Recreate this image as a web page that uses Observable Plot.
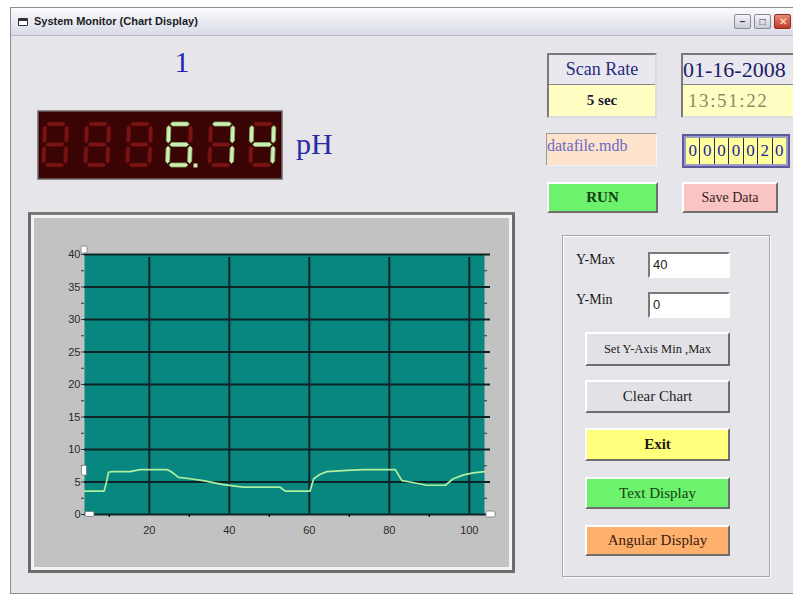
<!DOCTYPE html>
<html>
<head>
<meta charset="utf-8">
<script src="https://cdn.jsdelivr.net/npm/d3@7"></script>
<script src="https://cdn.jsdelivr.net/npm/@observablehq/plot@0.6"></script>
<style>
  html, body { margin: 0; padding: 0; background: #ffffff; }
  body { width: 793px; height: 599px; overflow: hidden; position: relative; font-family: "Liberation Serif", "DejaVu Serif", serif; }
  .abs { position: absolute; box-sizing: border-box; font-family: "Liberation Serif", "DejaVu Serif", serif; }
  .win { left: 10px; top: 7px; width: 800px; height: 587px; background: #e5e5ea; border: 1px solid #8c8c94; border-right: none; }
  .titlebar { left: 0; top: 0; width: 100%; height: 28px; background: linear-gradient(to bottom, #fbfbfd, #e6e7ee 60%, #d9dbe5); border-bottom: 1px solid #b8b8c4; }
  .abs.title { left: 23px; top: 7px; font: bold 11px "Liberation Sans", Arial, sans-serif; color: #1c1c24; white-space: nowrap; }
  .icon { left: 7px; top: 10px; width: 10px; height: 8px; border: 1.5px solid #333; border-top-width: 3px; border-radius: 1px; background: #fff; }
  .wbtn { top: 6px; width: 17px; height: 15px; border: 1px solid #8a8a98; border-radius: 2px; background: linear-gradient(#f4f4f8, #c9cbd8); }
  .raised { border-style: solid; border-width: 2px; border-color: #ffffff #6e6e6e #6e6e6e #ffffff; display: flex; align-items: center; justify-content: center; white-space: nowrap; font-family: "Liberation Serif", "DejaVu Serif", serif; }
  .sunken { border-style: solid; border-width: 2px; border-color: #7a7a7a #ffffff #ffffff #7a7a7a; }
  .cell { flex: 1; border-right: 1px solid #2a2a60; display: flex; align-items: center; justify-content: center; background: #ffff9c; color: #2424a0; font-size: 17px; font-family: "Liberation Serif", serif; }
</style>
</head>
<body>
<div id="root"></div>
<script>
// ---------------- data ----------------
const channelLabel = "1";
const reading = "6.74";
const unitLabel = "pH";
const scanRateLabel = "Scan Rate";
const scanRateValue = "5 sec";
const dateText = "01-16-2008";
const timeText = "13:51:22";
const fileName = "datafile.mdb";
const counterText = "0000020";
const yMaxValue = 40;
const yMinValue = 0;

// trace samples (time index, pH)
const sampleX = [3.8, 8.7, 9.3, 9.8, 10.6, 15.2, 17.7, 24.4, 25.2, 26.1, 27.3, 30.2, 33.5, 38.5, 43.5, 52.7, 54.0, 60.2, 61.1, 62.7, 64.4, 69.5, 73.6, 81.5, 82.3, 83.2, 85.2, 89.4, 94.0, 96.0, 98.6, 101.0, 103.8];
const sampleY = [3.6, 3.6, 5.0, 6.5, 6.6, 6.6, 6.9, 6.9, 6.7, 6.3, 5.7, 5.5, 5.2, 4.6, 4.2, 4.2, 3.6, 3.6, 5.5, 6.2, 6.6, 6.8, 6.9, 6.9, 6.1, 5.2, 5.0, 4.5, 4.5, 5.5, 6.1, 6.4, 6.6];

const xDomain = [3.8, 103.8];
const xTicks = [20, 40, 60, 80, 100];
const xMinorTicks = [10, 30, 50, 70, 90];
const yTicks = [0, 5, 10, 15, 20, 25, 30, 35, 40];
const yMinorTicks = [2.5, 7.5, 12.5, 17.5, 22.5, 27.5, 32.5, 37.5];

// ---------------- helpers ----------------
const root = document.getElementById("root");
function box(cls, style, html) {
  const d = document.createElement("div");
  d.className = "abs " + (cls || "");
  Object.assign(d.style, style);
  if (html != null) d.innerHTML = html;
  root.appendChild(d);
  return d;
}
const px = v => v + "px";
function place(l, t, w, h) { return { left: px(l), top: px(t), width: px(w), height: px(h) }; }

// ---------------- window chrome ----------------
const win = box("win", {});
const tb = document.createElement("div"); tb.className = "abs titlebar"; win.appendChild(tb);
const ic = document.createElement("div"); ic.className = "abs icon"; tb.appendChild(ic);
const tt = document.createElement("div"); tt.className = "abs title"; tt.textContent = "System Monitor (Chart Display)"; tb.appendChild(tt);
[[723, "–"], [743, "□"], [763, "✕"]].forEach(([l, s], i) => {
  const b = document.createElement("div"); b.className = "abs wbtn";
  b.style.left = px(l);
  if (i === 2) { b.style.background = "linear-gradient(#e88a7a,#c0382a)"; b.style.borderColor = "#8a3020"; }
  b.style.font = "bold 10px 'Liberation Sans', sans-serif";
  b.style.color = i === 2 ? "#ffd0a0" : "#333";
  b.style.display = "flex"; b.style.alignItems = "center"; b.style.justifyContent = "center";
  b.textContent = s;
  tb.appendChild(b);
});

// channel number
box("", Object.assign(place(160, 42, 44, 40), { fontSize: "30px", color: "#2424b8", textAlign: "center", lineHeight: "40px" }), channelLabel);

// LED display
(function led() {
  const L = 37, T = 110, W = 246, H = 70;
  const slots = [43, 85, 127, 167, 209, 250];
  const segMap = { "0": "abcdef", "1": "bc", "2": "abdeg", "3": "abcdg", "4": "bcfg", "5": "acdfg", "6": "acdefg", "7": "abc", "8": "abcdefg", "9": "abcdfg" };
  const digs = reading.replace(".", "").split("");
  const dpAfter = reading.indexOf(".") - 1;
  const lit = Array(slots.length - digs.length).fill(null).concat(digs);
  const dpIndex = slots.length - digs.length + dpAfter;
  const w = 26, h = 45, t = 4, gap = 1.5, m = t / 2;
  function hseg(x0, x1, y) {
    x0 += gap; x1 -= gap;
    return `${x0},${y} ${x0 + m},${y - m} ${x1 - m},${y - m} ${x1},${y} ${x1 - m},${y + m} ${x0 + m},${y + m}`;
  }
  function vseg(x, y0, y1) {
    y0 += gap; y1 -= gap;
    return `${x},${y0} ${x + m},${y0 + m} ${x + m},${y1 - m} ${x},${y1} ${x - m},${y1 - m} ${x - m},${y0 + m}`;
  }
  const xL = m, xR = w - m, yT = m, yM = h / 2, yB = h - m;
  const segs = {
    a: hseg(xL, xR, yT), b: vseg(xR, yT, yM), c: vseg(xR, yM, yB), d: hseg(xL, xR, yB),
    e: vseg(xL, yM, yB), f: vseg(xL, yT, yM), g: hseg(xL, xR, yM)
  };
  let svg = `<svg width="${W}" height="${H}" xmlns="http://www.w3.org/2000/svg">`;
  svg += `<rect x="0" y="0" width="${W}" height="${H}" fill="#3a0404" stroke="#8a8a8a" stroke-width="3"/>`;
  slots.forEach((sx, i) => {
    const on = lit[i] ? segMap[lit[i]] : "";
    svg += `<g transform="translate(${sx - L},${122 - T}) skewX(-2)">`;
    for (const k of "abcdefg") {
      const isOn = on.includes(k);
      svg += `<polygon points="${segs[k]}" fill="${isOn ? "#cdeeb4" : "#7a1414"}" stroke="${isOn ? "#7fae66" : "#5a0a0a"}" stroke-width="0.8"/>`;
    }
    if (i === dpIndex) svg += `<rect x="${w + 2}" y="${h - 3.5}" width="4" height="4" fill="#cdeeb4"/>`;
    svg += `</g>`;
  });
  svg += `</svg>`;
  box("", place(L, T, W, H), svg);
})();

// unit label
box("", Object.assign(place(296, 124, 60, 40), { fontSize: "30px", color: "#2a2aa6", lineHeight: "40px" }), unitLabel);

// Scan rate box
box("", Object.assign(place(547, 53, 110, 65), { border: "2px solid", borderColor: "#7a7a7a #dcdcdc #dcdcdc #7a7a7a" }));
box("", Object.assign(place(549, 55, 106, 30), { background: "#e8e8ee", color: "#2a2a82", fontSize: "18px", display: "flex", alignItems: "center", justifyContent: "center", borderBottom: "1px solid #888" }), scanRateLabel);
box("", Object.assign(place(549, 85, 106, 31), { background: "#ffffc4", color: "#1c1c3c", fontSize: "15px", fontWeight: "bold", display: "flex", alignItems: "center", justifyContent: "center" }), scanRateValue);

// Date / time box
box("", Object.assign(place(681, 53, 120, 65), { border: "2px solid", borderColor: "#7a7a7a #dcdcdc #dcdcdc #7a7a7a" }));
box("", Object.assign(place(683, 55, 116, 30), { background: "#e8e8ee", color: "#1c1c66", fontSize: "22px", display: "flex", alignItems: "center", borderBottom: "1px solid #888", whiteSpace: "nowrap" }), dateText);
box("", Object.assign(place(683, 85, 116, 31), { background: "#ffffc4", color: "#8c8a62", fontSize: "19px", letterSpacing: "1.6px", display: "flex", alignItems: "center", paddingLeft: "5px", whiteSpace: "nowrap" }), timeText);

// file name
box("", Object.assign(place(546, 133, 111, 33), { background: "#fde2cc", color: "#6a6ac4", fontSize: "16px", display: "flex", alignItems: "flex-start", paddingTop: "3px", whiteSpace: "nowrap", border: "1px solid", borderColor: "#9a9a9a #f4f4f4 #f4f4f4 #9a9a9a" }), fileName);

// counter
(function () {
  const c = box("", Object.assign(place(682, 134, 108, 34), { border: "2px solid #5a5a9a", display: "flex", background: "#9a9ac8", padding: "2px" }));
  counterText.split("").forEach((ch, i) => {
    const d = document.createElement("div"); d.className = "cell"; d.textContent = ch;
    if (i === counterText.length - 1) d.style.borderRight = "none";
    c.appendChild(d);
  });
})();

// buttons
box("raised", Object.assign(place(547, 182, 111, 31), { background: "#6cf26c", color: "#163c16", fontSize: "15px", fontWeight: "bold" }), "RUN");
box("raised", Object.assign(place(682, 182, 96, 31), { background: "#f9c4c4", color: "#3c1a1a", fontSize: "14px" }), "Save Data");

// group box
box("", Object.assign(place(562, 235, 208, 342), { border: "1px solid #a4a4aa", boxShadow: "inset 1px 1px 0 #ffffff, 1px 1px 0 #ffffff" }));
box("", Object.assign(place(576, 252, 60, 20), { fontSize: "14px", color: "#1a1a1a" }), "Y-Max");
box("", Object.assign(place(576, 292, 60, 20), { fontSize: "14px", color: "#1a1a1a" }), "Y-Min");
box("sunken", Object.assign(place(648, 252, 82, 26), { background: "#ffffff", fontSize: "13px", fontFamily: "'Liberation Sans', sans-serif", color: "#222", paddingLeft: "3px", lineHeight: "21px" }), String(yMaxValue));
box("sunken", Object.assign(place(648, 292, 82, 26), { background: "#ffffff", fontSize: "13px", fontFamily: "'Liberation Sans', sans-serif", color: "#222", paddingLeft: "3px", lineHeight: "21px" }), String(yMinValue));
box("raised", Object.assign(place(585, 332, 145, 34), { background: "#e2e2e6", color: "#222", fontSize: "12.5px" }), "Set Y-Axis Min ,Max");
box("raised", Object.assign(place(585, 380, 145, 33), { background: "#e2e2e6", color: "#222", fontSize: "15px" }), "Clear Chart");
box("raised", Object.assign(place(585, 428, 145, 33), { background: "#ffff7c", color: "#1a1a10", fontSize: "15px", fontWeight: "bold" }), "Exit");
box("raised", Object.assign(place(585, 477, 145, 32), { background: "#6cf26c", color: "#154015", fontSize: "15px" }), "Text Display");
box("raised", Object.assign(place(585, 525, 145, 31), { background: "#ffb06c", color: "#3a2010", fontSize: "15px" }), "Angular Display");

// chart frame
box("", Object.assign(place(28, 212, 487, 361), { border: "3px solid #6c6c6c", borderTopColor: "#7a7a7a" }));
box("", Object.assign(place(31, 215, 481, 355), { border: "3px solid #f4f4f4", background: "#c2c2c2" }));

// ---------------- the chart ----------------
const data = sampleX.map((x, i) => ({ x, y: sampleY[i] }));
const current = +reading;
const gridColor = "#0e2424";
const teal = "#07877f";

const chart = Plot.plot({
  width: 472,
  height: 347,
  marginLeft: 49,
  marginRight: 23,
  marginTop: 36,
  marginBottom: 51,
  style: { background: "transparent", fontFamily: "'Liberation Sans', Arial, sans-serif", fontSize: "11px", color: "#2a2a2a", overflow: "visible" },
  x: { domain: xDomain, label: null },
  y: { domain: [yMinValue, yMaxValue], label: null },
  marks: [
    Plot.frame({ fill: teal, stroke: null }),
    // minor ticks
    Plot.ruleY(yMinorTicks, { x1: xDomain[0], x2: xDomain[0], insetLeft: -3, stroke: "#333", strokeWidth: 1 }),
    Plot.ruleY(yMinorTicks, { x1: xDomain[1], x2: xDomain[1], insetRight: -3, stroke: "#333", strokeWidth: 1 }),
    Plot.ruleX(xMinorTicks, { y1: 0, y2: 0, insetBottom: -3, stroke: gridColor, strokeWidth: 1.5 }),
    // grid
    Plot.ruleY(yTicks, { x1: xDomain[0], x2: xDomain[1], insetRight: -6, stroke: gridColor, strokeWidth: 2 }),
    Plot.ruleX(xTicks, { y1: yMinValue, y2: yMaxValue, insetBottom: -3, stroke: gridColor, strokeWidth: 2 }),
    // axes
    Plot.axisY({ ticks: yTicks, tickSize: 3, tickPadding: 1, stroke: "#333" }),
    Plot.axisX({ ticks: xTicks, tickSize: 0, tickPadding: 12 }),
    // trace
    Plot.line(data, { x: "x", y: "y", stroke: "#aef0a0", strokeWidth: 1.7 }),
    // cursor handles
    Plot.rect([{ v: yMaxValue }], { x1: xDomain[0], x2: xDomain[0], y1: "v", y2: "v", insetLeft: -3, insetRight: -3, insetTop: -8, insetBottom: 1, fill: "white", stroke: "#777", strokeWidth: 0.8, rx: 1.5 }),
    Plot.rect([{ v: current }], { x1: xDomain[0], x2: xDomain[0], y1: "v", y2: "v", insetLeft: -2.5, insetRight: -2.5, insetTop: -5, insetBottom: -5, fill: "white", stroke: "#777", strokeWidth: 0.8, rx: 1.5 }),
    Plot.rect([{ v: yMinValue }], { x1: xDomain[0], x2: xDomain[0], y1: "v", y2: "v", insetLeft: 1, insetRight: -10, insetTop: -2.5, insetBottom: -2.5, fill: "white", stroke: "#777", strokeWidth: 0.8, rx: 1.5 }),
    Plot.rect([{ v: yMinValue }], { x1: xDomain[1], x2: xDomain[1], y1: "v", y2: "v", insetLeft: 2, insetRight: -11, insetTop: -3, insetBottom: -3, fill: "white", stroke: "#777", strokeWidth: 0.8, rx: 1.5 })
  ]
});
const holder = box("", place(35, 218, 472, 347));
holder.appendChild(chart);
</script>
</body>
</html>
